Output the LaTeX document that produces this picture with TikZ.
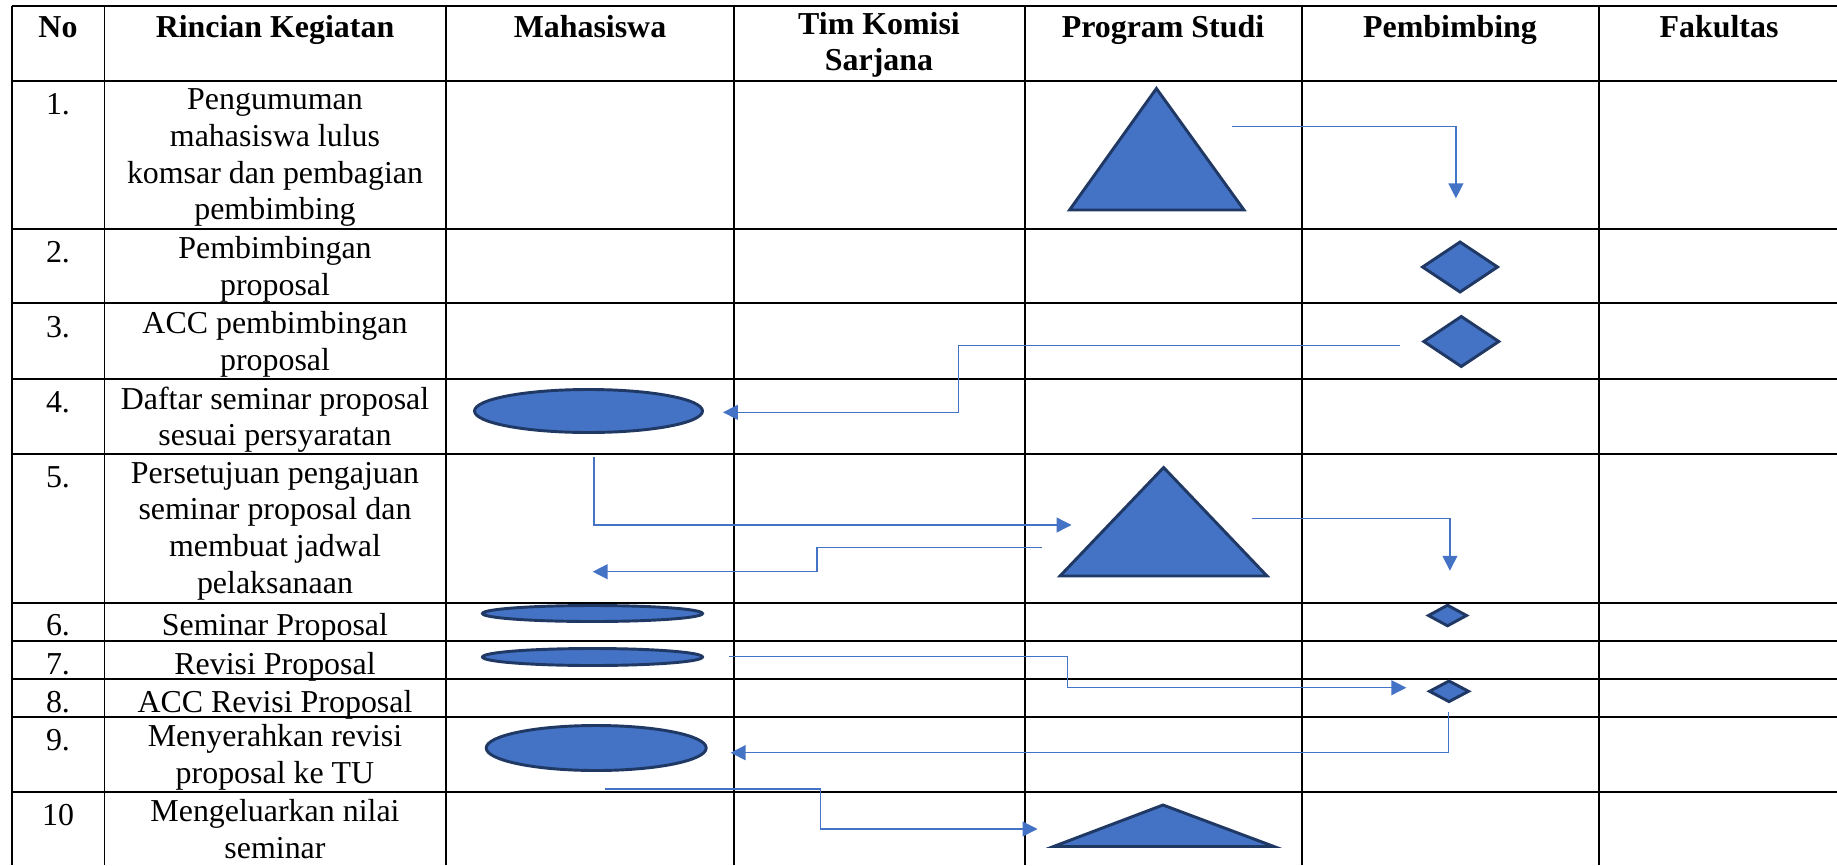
\documentclass[tikz,border=0pt]{standalone}
\usepackage{fontspec}
\setmainfont{Liberation Serif}
\usetikzlibrary{arrows.meta,positioning}

\definecolor{shapeblue}{HTML}{4472C4}
\definecolor{shapeline}{HTML}{1F3864}
\definecolor{flowblue}{HTML}{4472C4}

\begin{document}
\begin{tikzpicture}[x=0.376pt, y=-0.376pt,
    cell/.style={anchor=north, align=center, inner sep=0pt,
      font=\fontsize{12}{13.8}\selectfont, execute at begin node=\strut},
    head/.style={cell, font=\fontsize{12}{13.8}\selectfont\bfseries},
    grid/.style={line width=0.7pt},
    symbol/.style={fill=shapeblue, draw=shapeline, line width=1.1pt},
    flow/.style={draw=flowblue, line width=0.5pt,
      -{Triangle[length=5.6pt, width=5.6pt]}}]
    \useasboundingbox (0,0) rectangle (1837,865);

    % table
    \foreach \xv in {11.7,104.5,446,733.6,1025,1301.7,1599}
        \draw[grid] (\xv,6) -- (\xv,865);
    \foreach \yh in {6,80.7,228.7,303.3,378.7,454,603,640.7,678.7,716.7,791.7}
        \draw[grid] (11.7,\yh) -- (1837,\yh);

    % header
    \node[head] (hNo) at (58,11.5) {No};
    \node[head] (hKeg) at (275,11.5) {Rincian Kegiatan};
    \node[head] (hMhs) at (590,11.5) {Mahasiswa};
    \node[head] (hTim) at (879,11.5) {Tim Komisi\\Sarjana};
    \node[head] (hProdi) at (1163,11.5) {Program Studi};
    \node[head] (hPemb) at (1450,11.5) {Pembimbing};
    \node[head] (hFak) at (1719,11.5) {Fakultas};

    % rows
    \foreach \no/\txt/\ytop [count=\i] in {
        1./{Pengumuman\\mahasiswa lulus\\komsar dan pembagian\\pembimbing}/80.7,
        2./{Pembimbingan\\proposal}/228.7,
        3./{ACC pembimbingan\\proposal}/303.3,
        4./{Daftar seminar proposal\\sesuai persyaratan}/378.7,
        5./{Persetujuan pengajuan\\seminar proposal dan\\membuat jadwal\\pelaksanaan}/454,
        6./{Seminar Proposal}/601.5,
        7./{Revisi Proposal}/640.7,
        8./{ACC Revisi Proposal}/678.7,
        9./{Menyerahkan revisi\\proposal ke TU}/716.7,
        10/{Mengeluarkan nilai\\seminar}/791.7} {
        \node[cell] (no\i) at (58,\ytop+7.5) {\no};
        \node[cell] (keg\i) at (275,\ytop+7.5) {\txt};
    }

    % Program Studi
    \filldraw[symbol] (1156.4,88.5) -- (1244,210) -- (1069.5,210) -- cycle;
    \filldraw[symbol] (1163.6,467.5) -- (1267,576) -- (1060,576) -- cycle;
    \filldraw[symbol] (1163,805) -- (1274,846.5) -- (1053.5,846.5) -- cycle;

    % Mahasiswa
    \coordinate (ell4) at (588.5,411);
    \coordinate (ell6) at (592.5,613.5);
    \coordinate (ell7) at (592.5,657);
    \coordinate (ell9) at (596.2,748);
    \filldraw[symbol] (ell4) ellipse [x radius=114, y radius=21.5];
    \filldraw[symbol] (ell6) ellipse [x radius=110, y radius=8];
    \filldraw[symbol] (ell7) ellipse [x radius=110, y radius=8.5];
    \filldraw[symbol] (ell9) ellipse [x radius=110, y radius=22.5];

    % Pembimbing
    \coordinate (dia2) at (1460,267);
    \coordinate (dia3) at (1461.3,341.5);
    \coordinate (dia6) at (1447.5,615.5);
    \coordinate (dia8) at (1449,691.3);
    \filldraw[symbol] (dia2) ++(-37.5,0) -- ++(37.5,-25) -- ++(37.5,25) -- ++(-37.5,25) -- cycle;
    \filldraw[symbol] (dia3) ++(-37.5,0) -- ++(37.5,-25) -- ++(37.5,25) -- ++(-37.5,25) -- cycle;
    \filldraw[symbol] (dia6) ++(-19,0) -- ++(19,-10.3) -- ++(19,10.3) -- ++(-19,10.3) -- cycle;
    \filldraw[symbol] (dia8) ++(-19.5,0) -- ++(19.5,-10.3) -- ++(19.5,10.3) -- ++(-19.5,10.3) -- cycle;

    % connectors
    \coordinate (c1s) at (1231.7,126.7);
    \coordinate (c1e) at (1455.9,198.3);
    \draw[flow] (c1s) -| (c1e);

    \coordinate (c3s) at (1400.3,345.7);
    \coordinate (c3e) at (723,412.3);
    \draw[flow] (c3s) -- (958.6,345.7) |- (c3e);

    \coordinate (c5s) at (593.9,457.3);
    \coordinate (c5e) at (1071.5,525);
    \draw[flow] (c5s) |- (c5e);

    \coordinate (c5bs) at (1041.7,547.5);
    \coordinate (c5be) at (592.7,571.7);
    \draw[flow] (c5bs) -- (816.9,547.5) |- (c5be);

    \coordinate (c5cs) at (1251.5,518.3);
    \coordinate (c5ce) at (1449.9,570.7);
    \draw[flow] (c5cs) -| (c5ce);

    \coordinate (c7s) at (728.9,656.7);
    \coordinate (c7e) at (1406.3,687.7);
    \draw[flow] (c7s) -- (1067.4,656.7) |- (c7e);

    \coordinate (c9s) at (1448.7,711.7);
    \coordinate (c9e) at (730.6,752.7);
    \draw[flow] (c9s) |- (c9e);

    \coordinate (c10s) at (604.5,789);
    \coordinate (c10e) at (1037.5,829);
    \draw[flow] (c10s) -- (820.4,789) |- (c10e);
\end{tikzpicture}
\end{document}
